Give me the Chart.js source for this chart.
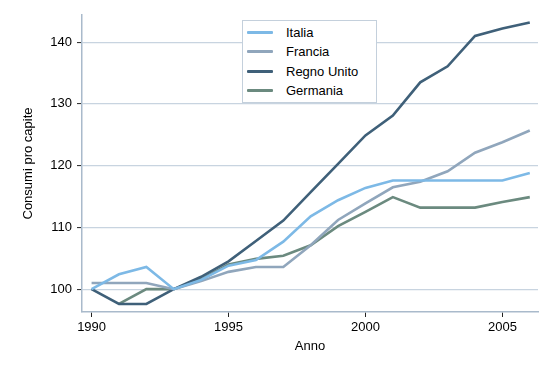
<!DOCTYPE html>
<html>
<head>
<meta charset="utf-8">
<script src="https://cdn.jsdelivr.net/npm/chart.js@4"></script>
<style>
html,body{margin:0;padding:0;background:#fff;}
#wrap{position:relative;width:553px;height:374px;}
#legend{position:absolute;left:242px;top:20px;width:133px;height:79px;border:1px solid #c4d0dc;background:#fff;box-sizing:content-box;padding-top:2px;font-family:"Liberation Sans",Arial,sans-serif;font-size:13px;color:#000;}
#legend .row{height:19.3px;display:flex;align-items:center;}
#legend .sw{width:26px;height:3px;margin-left:4px;margin-right:13px;border-radius:1px;}
</style>
</head>
<body>
<div id="wrap">
<canvas id="c" width="553" height="374"></canvas>
<div id="legend"></div>
</div>
<script>
const years = [1990,1991,1992,1993,1994,1995,1996,1997,1998,1999,2000,2001,2002,2003,2004,2005,2006];
const seriesNames = ["Italia","Francia","Regno Unito","Germania"];
const italia     = [100,102.4,103.6,100,101.5,103.8,104.7,107.7,111.8,114.4,116.4,117.6,117.6,117.6,117.6,117.6,118.8];
const francia    = [101,101,101,100,101.3,102.8,103.6,103.6,107.1,111.2,113.9,116.5,117.4,119.1,122.1,123.8,125.7];
const regnoUnito = [100,97.6,97.6,100,102,104.5,107.8,111.1,115.7,120.3,124.9,128.1,133.5,136.1,141.0,142.2,143.2];
const germania   = [null,97.6,100,100,101.6,104.0,104.9,105.4,107.1,110.2,112.5,114.9,113.2,113.2,113.2,114.1,114.9];
const xTicks = [1990,1995,2000,2005];
const yTicks = [100,110,120,130,140];
const colors = ["#7DB9E6","#90A6BC","#3F6079","#6B8A7F"];

const seriesData = [italia, francia, regnoUnito, germania];
const datasets = seriesNames.map((n,i)=>({
  label:n,
  data: years.map((y,j)=>({x:y,y:seriesData[i][j]})),
  borderColor:colors[i],
  backgroundColor:colors[i],
  borderWidth:2.6,
  pointRadius:0,
  tension:0,
  spanGaps:false
}));

const FONT = {family:'"Liberation Sans", Arial, sans-serif', size:13};
Chart.defaults.color = '#000';

new Chart(document.getElementById('c'), {
  type:'line',
  data:{datasets},
  options:{
    responsive:false,
    animation:false,
    events:[],
    layout:{padding:{left:0,top:15,right:15,bottom:0}},
    plugins:{legend:{display:false},tooltip:{enabled:false}},
    scales:{
      x:{
        type:'linear',
        min:1989.65, max:2006.3,
        afterBuildTicks:(s)=>{s.ticks = xTicks.map(v=>({value:v}));},
        afterFit:(s)=>{s.height = 62;},
        border:{display:true,color:'#a9bacb',width:1.5},
        grid:{drawOnChartArea:false,drawTicks:true,tickLength:5,tickColor:'#222',tickWidth:1},
        ticks:{font:FONT,padding:3,maxRotation:0,autoSkip:false,callback:(v)=>String(v)},
        title:{display:true,text:'Anno',font:FONT,padding:{top:0,bottom:20}}
      },
      y:{
        type:'linear',
        min:96.3, max:144.4,
        afterBuildTicks:(s)=>{s.ticks = yTicks.map(v=>({value:v}));},
        afterFit:(s)=>{s.width = 82;},
        border:{display:true,color:'#a9bacb',width:1.5},
        grid:{drawOnChartArea:true,color:'#c8d4e0',lineWidth:1.2,drawTicks:true,tickLength:5,tickColor:'#222',tickWidth:1},
        ticks:{font:FONT,padding:5,callback:(v)=>String(v)},
        title:{display:true,text:'Consumi pro capite',font:FONT,padding:{top:21,bottom:0}}
      }
    }
  }
});

const lg = document.getElementById('legend');
seriesNames.forEach((n,i)=>{
  const r = document.createElement('div'); r.className='row';
  const s = document.createElement('span'); s.className='sw'; s.style.background=colors[i];
  const t = document.createElement('span'); t.textContent = n;
  r.appendChild(s); r.appendChild(t); lg.appendChild(r);
});
</script>
</body>
</html>
